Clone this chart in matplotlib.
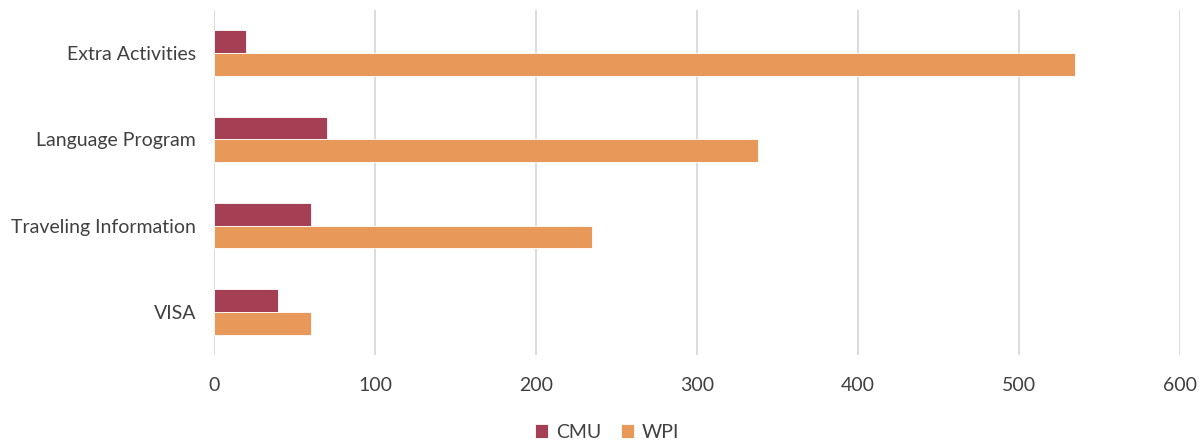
import numpy as np
import matplotlib.pyplot as plt

categories = ['VISA', 'Traveling Information', 'Language Program', 'Extra Activities']
cmu = [40, 60, 70, 20]
wpi = [60, 235, 338, 535]
xticks = [0, 100, 200, 300, 400, 500, 600]

plt.rcParams['font.family'] = ['Lato', 'DejaVu Sans']

fig = plt.figure(figsize=(12.02, 4.43), dpi=100)
ax = fig.add_axes([214 / 1202, 1 - 355 / 443, (1180 - 214) / 1202, 345 / 443])

y = np.arange(len(categories))
h = 0.265
ax.barh(y + h / 2, cmu, height=h, color='#A43F54', edgecolor='white', linewidth=0.6,
        label='CMU', zorder=3)
ax.barh(y - h / 2, wpi, height=h, color='#E8995A', edgecolor='white', linewidth=0.6,
        label='WPI', zorder=3)

ax.set_xlim(0, 600)
ax.set_ylim(-0.5, len(categories) - 0.5)
ax.set_xticks(xticks)
ax.set_yticks(y)
ax.set_yticklabels(categories)
ax.tick_params(axis='both', length=0, labelsize=14, colors='#404040')
ax.tick_params(axis='x', pad=16)
ax.tick_params(axis='y', pad=13)
ax.grid(axis='x', color='#D9D9D9', linewidth=1.3, zorder=0)
for s in ax.spines.values():
    s.set_visible(False)

fig.legend(loc='lower center', bbox_to_anchor=(0.505, -0.035), ncol=2, frameon=False,
           fontsize=14, handlelength=0.7, handleheight=0.7, handletextpad=0.4,
           columnspacing=1.0, labelcolor='#404040')

fig.savefig('out.png', dpi=100)
